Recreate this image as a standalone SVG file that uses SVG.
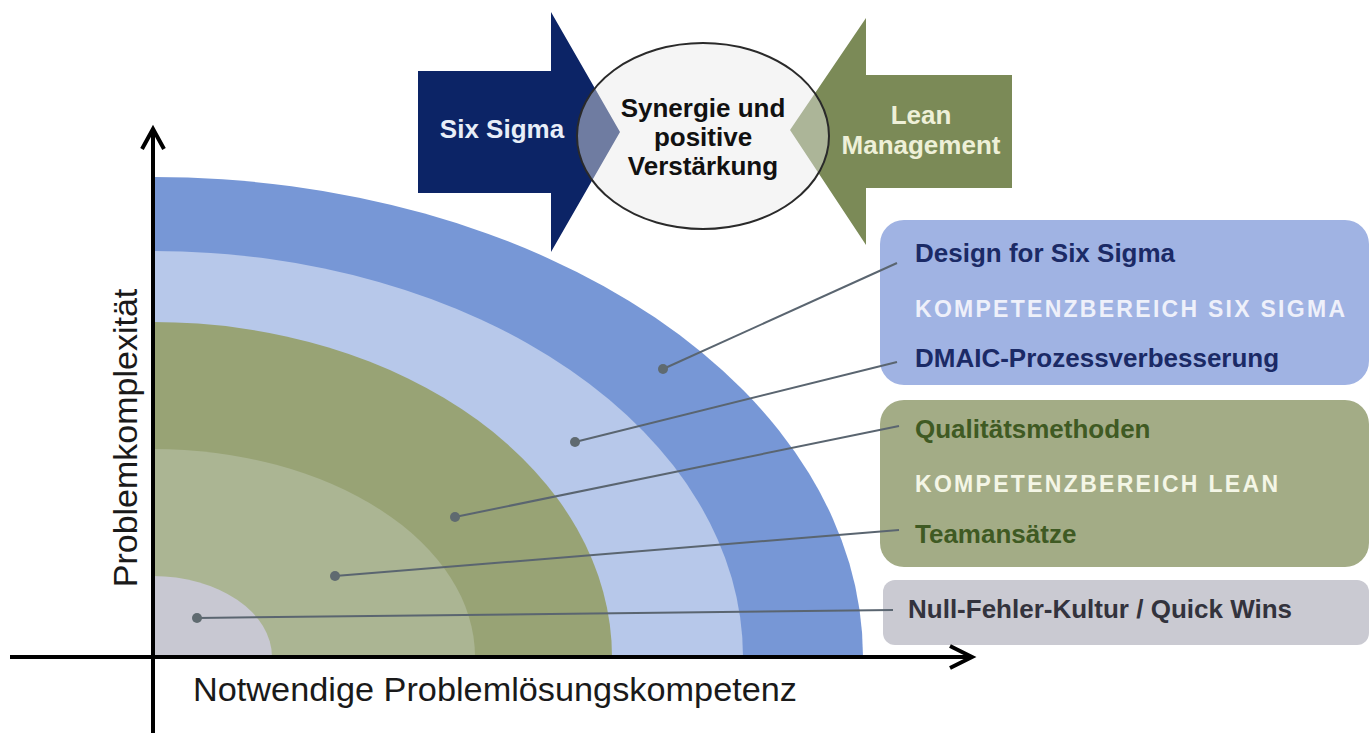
<svg xmlns="http://www.w3.org/2000/svg" width="1369" height="733" viewBox="0 0 1369 733">
<style>
.b{font-family:"Liberation Sans",Arial,sans-serif;font-weight:bold;font-size:26px}
.r{font-family:"Liberation Sans",Arial,sans-serif;font-size:34px;fill:#1a1a1a}
.k{font-family:"Liberation Sans",Arial,sans-serif;font-weight:bold;font-size:23px}
.ld{stroke:#5a6570;stroke-width:2;fill:none}
.dot{fill:#5f6a70}
.ax{stroke:#000;stroke-width:4;fill:none}
</style>
<rect width="1369" height="733" fill="#fff"/>
<g id="bands">
<path d="M153,657 L153,177 A710,480 0 0 1 863,657 Z" fill="#7797d6"/>
<path d="M153,657 L153,251 A590,406 0 0 1 743,657 Z" fill="#b7c8ea"/>
<path d="M153,657 L153,322 A459,335 0 0 1 612,657 Z" fill="#98a375"/>
<path d="M153,657 L153,449 A322,208 0 0 1 475,657 Z" fill="#abb593"/>
<path d="M153,657 L153,576 A119,81 0 0 1 272,657 Z" fill="#c8c8d2"/>
</g>
<g id="sixsigma">
<polygon points="418,71 551,71 551,12 620,132 551,252 551,193 418,193" fill="#0c2466"/>
<text class="b" x="502" y="138" text-anchor="middle" fill="#e8eef8">Six Sigma</text>
</g>
<g id="lean">
<polygon points="1012,75 866,75 866,18 790,130 866,245 866,188 1012,188" fill="#7b8a57"/>
<text class="b" x="921" y="124" text-anchor="middle" fill="#eef0d8">Lean</text>
<text class="b" x="921" y="154" text-anchor="middle" fill="#eef0d8">Management</text>
</g>
<g id="synergy">
<ellipse cx="703" cy="136" rx="126" ry="93" fill="#e8e8e8" fill-opacity="0.45" stroke="#2a2a2a" stroke-width="2"/>
<text class="b" x="703" y="117" text-anchor="middle" fill="#111">Synergie und</text>
<text class="b" x="703" y="146" text-anchor="middle" fill="#111">positive</text>
<text class="b" x="703" y="175" text-anchor="middle" fill="#111">Verstärkung</text>
</g>
<g id="box-sixsigma">
<rect x="880" y="220" width="489" height="165" rx="24" fill="#a0b3e3"/>
<text class="b" x="915" y="262" fill="#1b2a66">Design for Six Sigma</text>
<text class="k" x="915" y="317" fill="#eef0fa" textLength="430" lengthAdjust="spacing">KOMPETENZBEREICH SIX SIGMA</text>
<text class="b" x="915" y="367" fill="#1b2a66">DMAIC-Prozessverbesserung</text>
</g>
<g id="box-lean">
<rect x="880" y="400" width="489" height="167" rx="24" fill="#a3ac86"/>
<text class="b" x="915" y="438" fill="#3f5a23">Qualitätsmethoden</text>
<text class="k" x="915" y="492" fill="#f4f6e6" textLength="363" lengthAdjust="spacing">KOMPETENZBEREICH LEAN</text>
<text class="b" x="915" y="543" fill="#3f5a23">Teamansätze</text>
</g>
<g id="box-null">
<rect x="883" y="580" width="486" height="65" rx="12" fill="#cacad2"/>
<text class="b" x="908" y="618" fill="#33333d">Null-Fehler-Kultur / Quick Wins</text>
</g>
<g id="connectors">
<line class="ld" x1="663" y1="369" x2="897" y2="263"/>
<line class="ld" x1="575" y1="442" x2="897" y2="362"/>
<line class="ld" x1="455" y1="517" x2="899" y2="426"/>
<line class="ld" x1="335" y1="576" x2="899" y2="530"/>
<line class="ld" x1="197" y1="618" x2="893" y2="610"/>
<circle class="dot" cx="663" cy="369" r="5"/>
<circle class="dot" cx="575" cy="442" r="5"/>
<circle class="dot" cx="455" cy="517" r="5"/>
<circle class="dot" cx="335" cy="576" r="5"/>
<circle class="dot" cx="197" cy="618" r="5"/>
</g>
<g id="axes">
<line class="ax" x1="10" y1="657" x2="972" y2="657"/>
<polyline class="ax" points="950,646 972,657 950,668"/>
<line class="ax" x1="153" y1="733" x2="153" y2="129"/>
<polyline class="ax" points="142,149 153,129 164,149"/>
<text class="r" x="193" y="701" textLength="604" lengthAdjust="spacingAndGlyphs">Notwendige Problemlösungskompetenz</text>
<text class="r" transform="translate(137,438) rotate(-90)" x="0" y="0" text-anchor="middle">Problemkomplexität</text>
</g>
</svg>
